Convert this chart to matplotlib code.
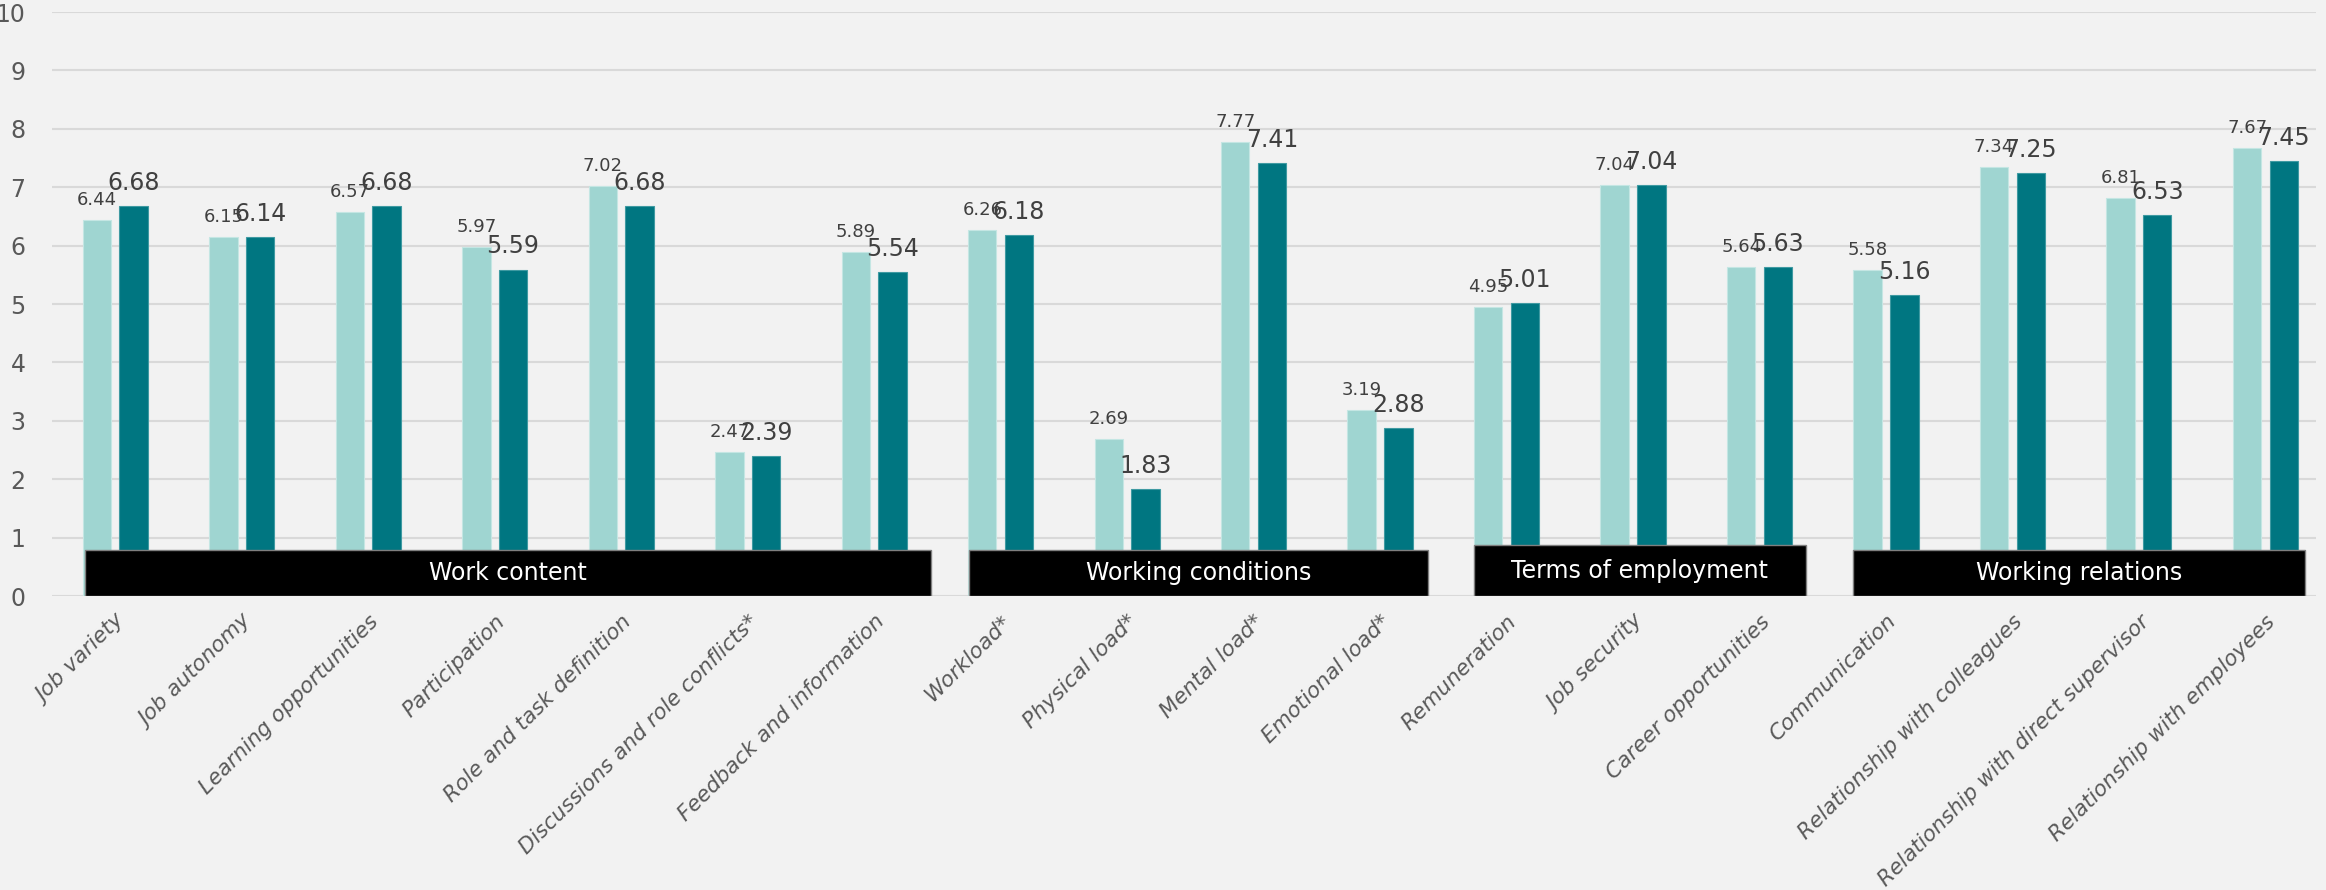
import matplotlib as mpl
mpl.use('Agg')
import matplotlib.pyplot as plt
from matplotlib.patches import Rectangle
import numpy as np

categories = [
    'Job variety', 'Job autonomy', 'Learning opportunities', 'Participation',
    'Role and task definition', 'Discussions and role conflicts*',
    'Feedback and information', 'Workload*', 'Physical load*', 'Mental load*',
    'Emotional load*', 'Remuneration', 'Job security', 'Career opportunities',
    'Communication', 'Relationship with colleagues',
    'Relationship with direct supervisor', 'Relationship with employees',
]
light_vals = [6.44, 6.15, 6.57, 5.97, 7.02, 2.47, 5.89, 6.26, 2.69, 7.77,
              3.19, 4.95, 7.04, 5.64, 5.58, 7.34, 6.81, 7.67]
dark_vals = [6.68, 6.14, 6.68, 5.59, 6.68, 2.39, 5.54, 6.18, 1.83, 7.41,
             2.88, 5.01, 7.04, 5.63, 5.16, 7.25, 6.53, 7.45]

groups = ['Work content', 'Working conditions', 'Terms of employment', 'Working relations']
group_sizes = [7, 4, 3, 4]

LIGHT = '#9fd5d1'
DARK = '#007681'
BG = '#f2f2f2'
TXT = '#595959'

fig = plt.figure(figsize=(23.26, 8.9), dpi=100, facecolor=BG)
ax = fig.add_axes([52 / 2326, 0.3303, (2316 - 52) / 2326, 0.6562], facecolor=BG)

x = np.arange(len(categories))
w = 0.225
off = 0.145
ax.bar(x - off, light_vals, w, color=LIGHT, edgecolor='#c4e6e3', linewidth=0.8, zorder=2)
ax.bar(x + off, dark_vals, w, color=DARK, edgecolor='#3f9aa2', linewidth=0.8, zorder=2)

for xi, v in zip(x, light_vals):
    ax.annotate(f'{v:.2f}', (xi - off, v), xytext=(0, 8), textcoords='offset points',
                ha='center', va='bottom', fontsize=13, color='#404040', zorder=5)
for xi, v in zip(x, dark_vals):
    ax.annotate(f'{v:.2f}', (xi + off, v), xytext=(0, 8), textcoords='offset points',
                ha='center', va='bottom', fontsize=17, color='#404040', zorder=6)

# black category boxes along the baseline
pads = [(0.24, 0.45), (0.25, 0.38), (0.26, 0.37), (0.26, 0.31)]
heights = [0.79, 0.79, 0.87, 0.79]
start = 0
for name, n, (pl, pr), h in zip(groups, group_sizes, pads, heights):
    x0 = start - pl
    x1 = start + n - 1 + pr
    ax.add_patch(Rectangle((x0, 0), x1 - x0, h, facecolor='black',
                           edgecolor='#7f7f7f', linewidth=1, zorder=3))
    ax.text((x0 + x1) / 2, h / 2, name, color='white', fontsize=17,
            ha='center', va='center', zorder=4)
    start += n

ax.set_ylim(0, 10)
ax.set_xlim(-0.5, 17.4)
ax.set_yticks(range(11))
ax.yaxis.grid(True, color='#d9d9d9', linewidth=1.5, zorder=0)
ax.set_axisbelow(True)
for s in ax.spines.values():
    s.set_visible(False)
ax.tick_params(axis='both', length=0, colors=TXT)
ax.tick_params(axis='y', pad=19, labelsize=17)
ax.set_xticks(x)
ax.set_xticklabels(categories, rotation=45, ha='right', rotation_mode='anchor',
                   fontsize=15.5, style='italic', color=TXT)
ax.tick_params(axis='x', pad=11)

plt.savefig('out.png', dpi=100, facecolor=BG)
